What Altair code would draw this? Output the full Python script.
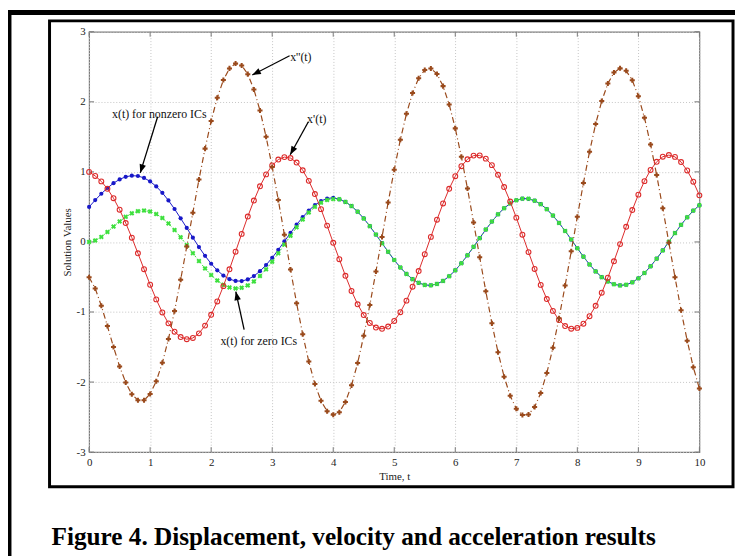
import altair as alt
import pandas as pd

# ---------------- data ----------------
t = [i / 10 for i in range(101)]

x_nonzero = [0.500, 0.597, 0.688, 0.769, 0.839, 0.893, 0.930, 0.946, 0.941, 0.914,
             0.864, 0.792, 0.701, 0.592, 0.470, 0.337, 0.200, 0.061, -0.073, -0.198,
             -0.311, -0.405, -0.480, -0.531, -0.557, -0.559, -0.535, -0.487, -0.417, -0.329,
             -0.226, -0.112, 0.008, 0.129, 0.246, 0.354, 0.449, 0.527, 0.584, 0.620,
             0.631, 0.608, 0.571, 0.512, 0.432, 0.335, 0.225, 0.105, -0.018, -0.141,
             -0.258, -0.365, -0.457, -0.531, -0.584, -0.614, -0.619, -0.599, -0.556, -0.490,
             -0.405, -0.304, -0.191, -0.070, 0.054, 0.176, 0.291, 0.394, 0.481, 0.549,
             0.595, 0.618, 0.616, 0.589, 0.539, 0.467, 0.377, 0.272, 0.156, 0.034,
             -0.090, -0.210, -0.322, -0.421, -0.503, -0.565, -0.604, -0.620, -0.611, -0.577,
             -0.520, -0.443, -0.348, -0.239, -0.121, 0.003, 0.126, 0.244, 0.352, 0.447,
             0.523]

x_zero = [0.000, 0.021, 0.072, 0.142, 0.219, 0.293, 0.358, 0.408, 0.439, 0.448,
          0.434, 0.398, 0.341, 0.264, 0.171, 0.067, -0.045, -0.160, -0.273, -0.378,
          -0.473, -0.551, -0.611, -0.649, -0.663, -0.654, -0.620, -0.564, -0.486, -0.391,
          -0.282, -0.162, -0.037, 0.088, 0.209, 0.321, 0.420, 0.501, 0.561, 0.599,
          0.612, 0.608, 0.571, 0.512, 0.432, 0.335, 0.225, 0.105, -0.018, -0.141,
          -0.258, -0.365, -0.457, -0.531, -0.584, -0.614, -0.619, -0.599, -0.556, -0.490,
          -0.405, -0.304, -0.191, -0.070, 0.054, 0.176, 0.291, 0.394, 0.481, 0.549,
          0.595, 0.618, 0.616, 0.589, 0.539, 0.467, 0.377, 0.272, 0.156, 0.034,
          -0.090, -0.210, -0.322, -0.421, -0.503, -0.565, -0.604, -0.620, -0.611, -0.577,
          -0.520, -0.443, -0.348, -0.239, -0.121, 0.003, 0.126, 0.244, 0.352, 0.447,
          0.523]

x_dot = [1.000, 0.942, 0.864, 0.759, 0.624, 0.460, 0.270, 0.061, -0.162, -0.389,
         -0.611, -0.820, -1.006, -1.162, -1.281, -1.358, -1.388, -1.371, -1.305, -1.194,
         -1.040, -0.850, -0.631, -0.391, -0.139, 0.115, 0.362, 0.591, 0.794, 0.964,
         1.093, 1.176, 1.211, 1.197, 1.133, 1.023, 0.872, 0.684, 0.468, 0.233,
         -0.012, -0.246, -0.483, -0.700, -0.890, -1.044, -1.156, -1.222, -1.240, -1.208,
         -1.128, -1.003, -0.838, -0.639, -0.416, -0.175, 0.072, 0.317, 0.549, 0.759,
         0.938, 1.081, 1.180, 1.232, 1.235, 1.189, 1.096, 0.958, 0.783, 0.576,
         0.347, 0.103, -0.145, -0.386, -0.613, -0.815, -0.984, -1.114, -1.200, -1.238,
         -1.227, -1.167, -1.060, -0.911, -0.725, -0.511, -0.276, -0.031, 0.216, 0.455,
         0.675, 0.868, 1.027, 1.144, 1.216, 1.240, 1.214, 1.140, 1.020, 0.860,
         0.665]

x_ddot = [-0.505, -0.664, -0.910, -1.201, -1.499, -1.777, -2.007, -2.173, -2.260, -2.261,
          -2.170, -1.989, -1.725, -1.386, -0.986, -0.539, -0.066, 0.418, 0.890, 1.332,
          1.727, 2.058, 2.311, 2.477, 2.547, 2.519, 2.395, 2.177, 1.876, 1.502,
          1.070, 0.598, 0.103, -0.394, -0.874, -1.318, -1.707, -2.029, -2.268, -2.416,
          -2.467, -2.431, -2.284, -2.047, -1.728, -1.340, -0.899, -0.422, 0.072, 0.564,
          1.032, 1.460, 1.829, 2.125, 2.337, 2.455, 2.476, 2.398, 2.224, 1.962,
          1.621, 1.215, 0.762, 0.278, -0.217, -0.703, -1.162, -1.574, -1.923, -2.196,
          -2.381, -2.471, -2.463, -2.357, -2.156, -1.870, -1.509, -1.088, -0.623, -0.134,
          0.361, 0.841, 1.288, 1.683, 2.012, 2.260, 2.418, 2.479, 2.442, 2.307,
          2.081, 1.772, 1.391, 0.955, 0.482, -0.011, -0.503, -0.976, -1.409, -1.787,
          -2.093]

x_ticks = [0, 1, 2, 3, 4, 5, 6, 7, 8, 9, 10]
y_ticks = [-3, -2, -1, 0, 1, 2, 3]

label_text = ["x''(t)", "x'(t)", "x(t) for nonzero ICs", "x(t) for zero ICs"]
label_t = [3.47, 3.73, 1.15, 2.78]
label_v = [2.64, 1.75, 1.82, -1.41]

arrow_t_tail = [3.285, 3.593, 1.123, 2.540]
arrow_v_tail = [2.657, 1.715, 1.786, -1.250]
arrow_t_tip = [2.674, 3.295, 0.838, 2.404]
arrow_v_tip = [2.383, 1.245, 0.985, -0.709]
arrow_angle = [242.8, 208.9, 197.2, 347.6]

caption = "Figure 4. Displacement, velocity and acceleration results"

# ---------------- chart ----------------
W, H = 617, 425
SERIF = "Liberation Serif"

xs = alt.Scale(domain=[0, 10], nice=False, zero=False)
ys = alt.Scale(domain=[-3, 3], nice=False, zero=False)
xaxis = alt.Axis(values=x_ticks, title="Time, t", grid=True, gridColor="#c4c4c4",
                 gridDash=[1, 2], ticks=False, domain=False,
                 labelExpr="'' + datum.value",
                 labelFont=SERIF, labelFontSize=11, labelColor="#222", labelPadding=5,
                 labelFlush=False,
                 titleFont=SERIF, titleFontSize=11, titleFontWeight="normal",
                 titleColor="#222", titlePadding=3)
yaxis = alt.Axis(values=y_ticks, title="Solution Values", grid=True, gridColor="#c4c4c4",
                 gridDash=[1, 2], ticks=False, domain=False,
                 labelExpr="'' + datum.value",
                 labelFont=SERIF, labelFontSize=11, labelColor="#222", labelPadding=4,
                 labelFlush=False,
                 titleFont=SERIF, titleFontSize=11, titleFontWeight="normal",
                 titleColor="#222", titlePadding=4)

X = alt.X("t:Q", scale=xs, axis=xaxis)
Y = alt.Y("v:Q", scale=ys, axis=yaxis)


def series(vals, color, dash, shape, size, filled, angle=0, sw=1.0):
    df = pd.DataFrame({"t": t, "v": vals})
    line_kw = dict(color=color, strokeWidth=sw)
    if dash:
        line_kw["strokeDash"] = dash
    line = alt.Chart(df).mark_line(**line_kw).encode(x=X, y=Y)
    pt_kw = dict(shape=shape, size=size, filled=filled, color=color, opacity=1)
    if angle:
        pt_kw["angle"] = angle
    if not filled:
        pt_kw["strokeWidth"] = 1.1
    pts = alt.Chart(df).mark_point(**pt_kw).encode(x=X, y=Y)
    return [line, pts]


layers = []

# inward ticks (MATLAB style)
xt = pd.DataFrame({"t": x_ticks})
yt = pd.DataFrame({"v": y_ticks})
tick_col = "#777777"
layers.append(alt.Chart(xt).mark_rule(color=tick_col).encode(x=X, y=alt.value(H), y2=alt.value(H - 5)))
layers.append(alt.Chart(xt).mark_rule(color=tick_col).encode(x=X, y=alt.value(0), y2=alt.value(5)))
layers.append(alt.Chart(yt).mark_rule(color=tick_col).encode(y=Y, x=alt.value(0), x2=alt.value(5)))
layers.append(alt.Chart(yt).mark_rule(color=tick_col).encode(y=Y, x=alt.value(W), x2=alt.value(W - 5)))

layers += series(x_nonzero, "#1818c8", None, "circle", 18, True)
layers += series(x_zero, "#3ee03e", [2, 2], "cross", 26, True, angle=45)
layers += series(x_dot, "#dc2a2a", None, "circle", 24, False)
layers += series(x_ddot, "#9a4a1c", [6, 3, 1, 3], "cross", 26, True, sw=1.2)

# annotations
lab = pd.DataFrame({"t": label_t, "v": label_v, "label": label_text})
layers.append(alt.Chart(lab).mark_text(font=SERIF, fontSize=12, color="#111",
                                       align="center", baseline="middle")
              .encode(x=X, y=Y, text="label:N"))
arr = pd.DataFrame({"t": arrow_t_tail, "v": arrow_v_tail,
                    "t2": arrow_t_tip, "v2": arrow_v_tip})
layers.append(alt.Chart(arr).mark_rule(color="black", strokeWidth=1.3)
              .encode(x=X, y=Y, x2="t2:Q", y2="v2:Q"))
heads = pd.DataFrame({"t": arrow_t_tip, "v": arrow_v_tip, "a": arrow_angle})
layers.append(alt.Chart(heads).mark_point(shape="M0,0L-0.38,1L0.38,1Z", filled=True,
                                          color="black", opacity=1, size=300)
              .encode(x=X, y=Y, angle=alt.Angle("a:Q", scale=None)))

# frames and caption (decoration)
one = pd.DataFrame({"a": [0]})
layers.append(alt.Chart(one).mark_rect(fillOpacity=0, stroke="black", strokeWidth=3)
              .encode(x=alt.value(-40), x2=alt.value(651), y=alt.value(-11), y2=alt.value(460)))
layers.append(alt.Chart(one).mark_rule(color="black", strokeWidth=5)
              .encode(x=alt.value(-90), x2=alt.value(660), y=alt.value(-19.5)))
layers.append(alt.Chart(one).mark_rule(color="black", strokeWidth=4)
              .encode(x=alt.value(-80.5), y=alt.value(-22), y2=alt.value(530)))
layers.append(alt.Chart(one).mark_text(text=caption, font=SERIF, fontSize=25.5,
                                       fontWeight="bold", color="black",
                                       align="left", baseline="alphabetic")
              .encode(x=alt.value(-38), y=alt.value(519)))

chart = alt.layer(*layers).properties(
    width=W, height=H,
    autosize="none",
    padding={"left": 82, "top": 21, "right": 36, "bottom": 102},
    background="white",
).configure_view(stroke="#7a7a7a", strokeWidth=1.2)

chart.save("out.html", embed_options={"renderer": "svg", "actions": False})
